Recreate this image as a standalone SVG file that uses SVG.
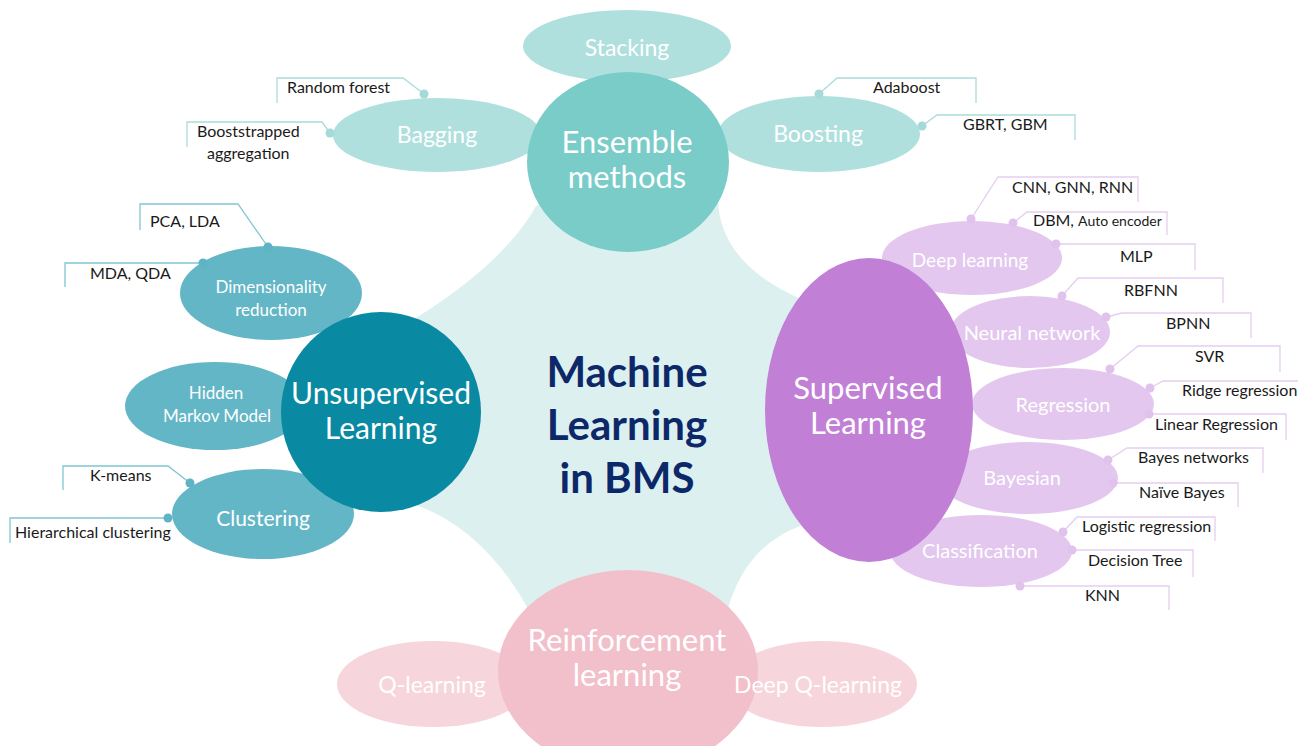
<svg xmlns="http://www.w3.org/2000/svg" width="1298" height="746" viewBox="0 0 1298 746">
<style>
text{font-family:Lato,"Open Sans","Noto Sans",sans-serif}
.w{fill:#ffffff;text-anchor:middle}
.c{fill:#1a1a1a;font-size:16px}
.lt{fill:none;stroke:#a9dcdb;stroke-width:1.3}
.lu{fill:none;stroke:#7fc6d3;stroke-width:1.3}
.lp{fill:none;stroke:#e6cdef;stroke-width:1.3}
.dt{fill:#a5dad8}
.du{fill:#5eb4c4}
.dp{fill:#e0c2ec}
.e1{fill:#b0e0de}
.e2{fill:#62b6c6}
.e3{fill:#e3c7ee}
.e4{fill:#f6d5dc}
</style>
<rect width="1298" height="746" fill="#ffffff"/>
<path id="hub" d="M 628,162 L 536,206 Q 505,262 416,318 L 381,412 L 416,505 Q 485,530 530,612 L 628,671 L 727,612 Q 745,545 803,525 L 869,410 L 803,300 Q 720,264 718,200 Z" fill="#dcf0f0"/>

<g id="connectors">
<polyline class="lt" points="424,94 403,78 277,78 277,103"/>
<polyline class="lt" points="330,133 322,122 187,122 187,147"/>
<polyline class="lt" points="819,94 837,78 976,78 976,103"/>
<polyline class="lt" points="922,126 937,115 1075,115 1075,140"/>
<polyline class="lu" points="268,247 238,204 140,204 140,230"/>
<polyline class="lu" points="203,263 65,263 65,287"/>
<polyline class="lu" points="190,483 168,466 63,466 63,490"/>
<polyline class="lu" points="168,518 10,518 10,543"/>
<polyline class="lp" points="971,219 998,177 1138,177 1138,202"/>
<polyline class="lp" points="1013,223 1027,212 1167,212 1167,235"/>
<polyline class="lp" points="1056,244 1195,244 1195,270"/>
<polyline class="lp" points="1062,296 1078,278 1223,278 1223,303"/>
<polyline class="lp" points="1106,317 1122,313 1251,313 1251,338"/>
<polyline class="lp" points="1110,369 1138,346 1280,346 1280,372"/>
<polyline class="lp" points="1150,388 1163,381 1298,381"/>
<polyline class="lp" points="1149,414 1286,414 1286,440"/>
<polyline class="lp" points="1108,460 1127,448 1263,448 1263,473"/>
<polyline class="lp" points="1113,483 1238,483 1238,507"/>
<polyline class="lp" points="1063,532 1077,517 1215,517 1215,541"/>
<polyline class="lp" points="1072,550 1193,550 1193,577"/>
<polyline class="lp" points="1020,586 1169,586 1169,610"/>
</g>

<g id="ensemble-children">
<g id="stacking"><ellipse class="e1" cx="627" cy="46" rx="104" ry="36"/></g>
<g id="bagging"><ellipse class="e1" cx="437" cy="135" rx="104" ry="37"/>
<circle class="dt" cx="424" cy="94" r="4.5"/><circle class="dt" cx="330" cy="133" r="4.5"/></g>
<g id="boosting"><ellipse class="e1" cx="819" cy="134" rx="101" ry="38"/>
<circle class="dt" cx="819" cy="94" r="4.5"/><circle class="dt" cx="922" cy="126" r="4.5"/></g>
</g>

<g id="unsupervised-children">
<g id="dimred"><ellipse class="e2" cx="271" cy="293" rx="91" ry="47"/>
<circle class="du" cx="268" cy="247" r="4.5"/><circle class="du" cx="203" cy="263" r="4.5"/></g>
<g id="hmm"><ellipse class="e2" cx="215" cy="406" rx="90" ry="44"/></g>
<g id="clustering"><ellipse class="e2" cx="263" cy="514" rx="91" ry="45"/>
<circle class="du" cx="190" cy="483" r="4.5"/><circle class="du" cx="168" cy="518" r="4.5"/></g>
</g>

<g id="supervised-children">
<g id="deep"><ellipse class="e3" cx="972" cy="258" rx="90" ry="37"/>
<circle class="dp" cx="971" cy="219" r="4.5"/><circle class="dp" cx="1013" cy="223" r="4.5"/><circle class="dp" cx="1056" cy="244" r="4.5"/></g>
<g id="neural"><ellipse class="e3" cx="1030" cy="332" rx="80" ry="36"/>
<circle class="dp" cx="1062" cy="296" r="4.5"/><circle class="dp" cx="1106" cy="317" r="4.5"/></g>
<g id="regression"><ellipse class="e3" cx="1063" cy="404" rx="91" ry="36"/>
<circle class="dp" cx="1110" cy="369" r="4.5"/><circle class="dp" cx="1150" cy="388" r="4.5"/><circle class="dp" cx="1149" cy="414" r="4.5"/></g>
<g id="bayesian"><ellipse class="e3" cx="1028" cy="478" rx="90" ry="36"/>
<circle class="dp" cx="1108" cy="460" r="4.5"/><circle class="dp" cx="1113" cy="483" r="4.5"/></g>
<g id="classification"><ellipse class="e3" cx="981" cy="551" rx="91" ry="36"/>
<circle class="dp" cx="1063" cy="532" r="4.5"/><circle class="dp" cx="1072" cy="550" r="4.5"/><circle class="dp" cx="1020" cy="586" r="4.5"/></g>
</g>

<g id="reinforcement-children">
<g id="qlearning"><ellipse class="e4" cx="433" cy="684" rx="96" ry="43"/></g>
<g id="deepq"><ellipse class="e4" cx="822" cy="684" rx="95" ry="43"/></g>
</g>

<g id="ensemble"><ellipse cx="628" cy="162" rx="101" ry="90" fill="#7accc9"/><text class="w" x="627" y="153" font-size="31">Ensemble</text><text class="w" x="627" y="188" font-size="31">methods</text></g>
<g id="unsupervised"><circle cx="381" cy="412" r="100" fill="#0a89a3"/><text class="w" x="381" y="404" font-size="30">Unsupervised</text><text class="w" x="381" y="439" font-size="30">Learning</text></g>
<g id="supervised"><ellipse cx="869" cy="410" rx="104" ry="152" fill="#c17fd6"/><text class="w" x="868" y="399" font-size="31">Supervised</text><text class="w" x="868" y="434" font-size="31">Learning</text></g>
<g id="reinforcement"><ellipse cx="628" cy="671" rx="130" ry="101" fill="#f2c0cb"/><text class="w" x="627" y="651" font-size="31">Reinforcement</text><text class="w" x="627" y="686" font-size="31">learning</text></g>

<g id="node-labels">
<text class="w" x="627" y="56" font-size="23">Stacking</text>
<text class="w" x="437" y="143" font-size="23">Bagging</text>
<text class="w" x="818" y="142" font-size="23">Boosting</text>
<text class="w" x="271" y="293" font-size="17">Dimensionality</text><text class="w" x="271" y="316" font-size="17">reduction</text>
<text class="w" x="216" y="399" font-size="17">Hidden</text><text class="w" x="217" y="422" font-size="17">Markov Model</text>
<text class="w" x="263" y="526" font-size="21">Clustering</text>
<text class="w" x="970" y="267" font-size="19">Deep learning</text>
<text class="w" x="1032" y="340" font-size="20">Neural network</text>
<text class="w" x="1063" y="412" font-size="20">Regression</text>
<text class="w" x="1022" y="485" font-size="20">Bayesian</text>
<text class="w" x="980" y="558" font-size="20">Classification</text>
<text class="w" x="432" y="693" font-size="23">Q-learning</text>
<text class="w" x="818" y="693" font-size="23">Deep Q-learning</text>
</g>

<g id="center" font-weight="bold" fill="#0d2868" text-anchor="middle" font-size="42">
<text x="627" y="387">Machine</text><text x="627" y="440">Learning</text><text x="627" y="493">in BMS</text>
</g>

<g id="labels">
<text class="c" x="287" y="93">Random forest</text>
<text class="c" x="197" y="137">Booststrapped</text>
<text class="c" x="207" y="159">aggregation</text>
<text class="c" x="873" y="93">Adaboost</text>
<text class="c" x="963" y="130">GBRT, GBM</text>
<text class="c" x="150" y="227">PCA, LDA</text>
<text class="c" x="90" y="279">MDA, QDA</text>
<text class="c" x="90" y="481">K-means</text>
<text class="c" x="15" y="538">Hierarchical clustering</text>
<text class="c" x="1012" y="193">CNN, GNN, RNN</text>
<text class="c" x="1033" y="226">DBM, <tspan font-size="14">Auto encoder</tspan></text>
<text class="c" x="1120" y="262">MLP</text>
<text class="c" x="1124" y="296">RBFNN</text>
<text class="c" x="1166" y="329">BPNN</text>
<text class="c" x="1195" y="362">SVR</text>
<text class="c" x="1182" y="396">Ridge regression</text>
<text class="c" x="1155" y="430">Linear Regression</text>
<text class="c" x="1138" y="463">Bayes networks</text>
<text class="c" x="1139" y="498">Naïve Bayes</text>
<text class="c" x="1082" y="532">Logistic regression</text>
<text class="c" x="1088" y="566">Decision Tree</text>
<text class="c" x="1085" y="601">KNN</text>
</g>
</svg>
